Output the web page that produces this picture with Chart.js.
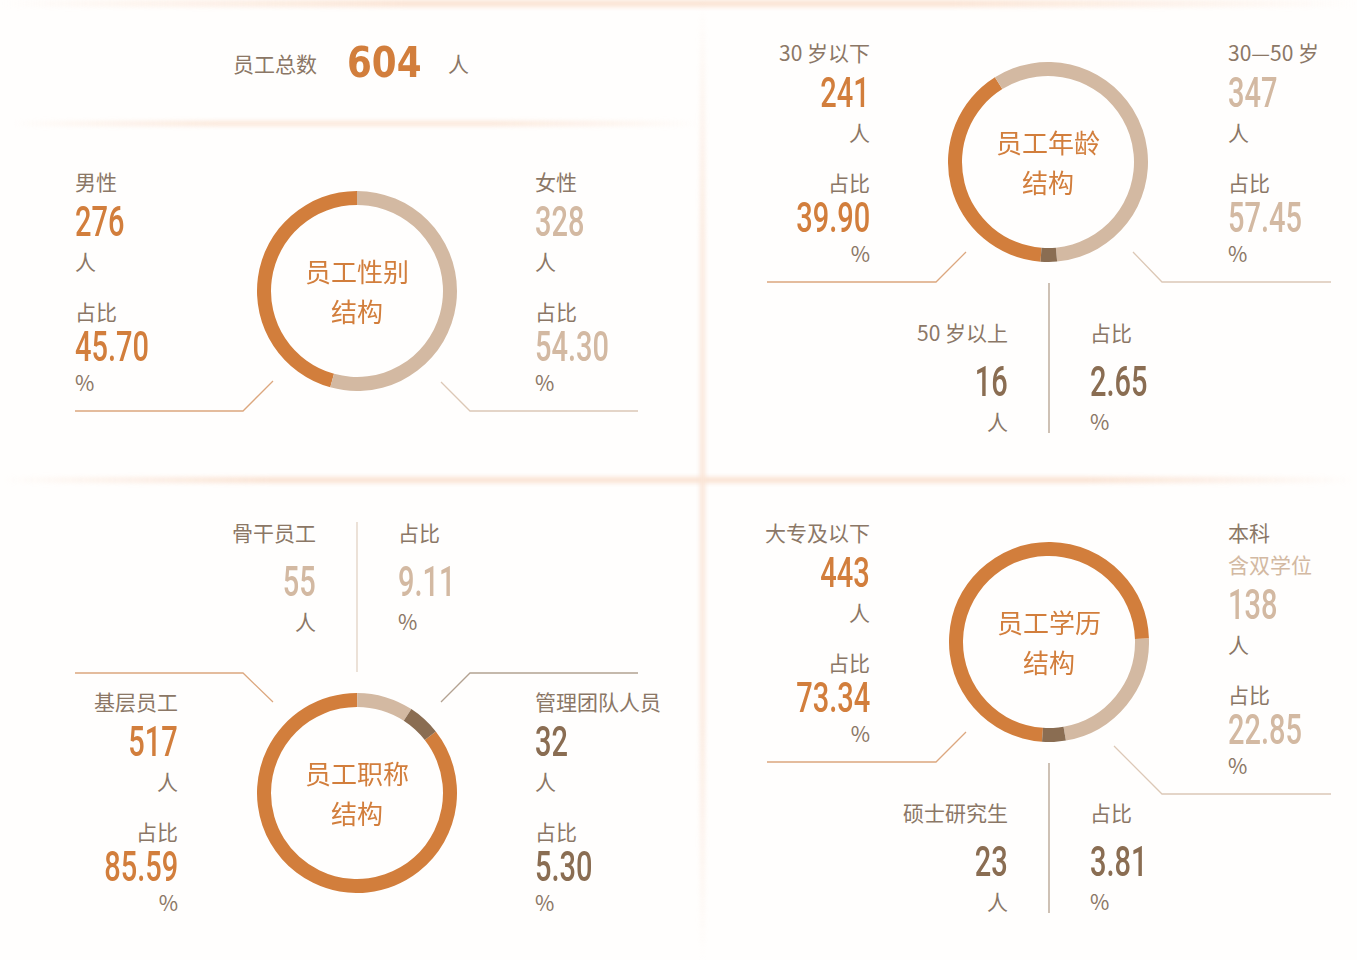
<!DOCTYPE html>
<html>
<head>
<meta charset="utf-8">
<script src="https://cdn.jsdelivr.net/npm/chart.js@4/dist/chart.umd.min.js"></script>
<style>
  html, body { margin: 0; padding: 0; background: #ffffff; }
  #stage { position: relative; width: 1357px; height: 960px; overflow: hidden; background: #fffefd; }
  .glow { position: absolute; filter: blur(2px); }
  .t { position: absolute; white-space: nowrap; line-height: 1; }
  .lab { font-family: "Noto Sans CJK SC", "Noto Sans", sans-serif; font-size: 21px; color: #8b7766; }
  .num { font-family: Roboto, "Liberation Sans", sans-serif; font-weight: 500; font-size: 42px; }
  .ring-title { font-family: "Noto Sans CJK SC", sans-serif; font-size: 26px; color: #d27e3c; }
  canvas.ring { position: absolute; }
  svg#lines { position: absolute; left: 0; top: 0; }
</style>
</head>
<body>
<div id="stage">
  <div class="glow" style="left:0;top:0;width:1357px;height:7px;background:linear-gradient(90deg,rgba(251,228,212,0),#fbe4d4 30%,#fbe4d4 70%,rgba(251,228,212,0));"></div>
  <div class="glow" style="left:10px;top:121px;width:690px;height:5px;background:linear-gradient(90deg,rgba(251,230,216,0),#fbe6d8 30%,#fbe6d8 70%,rgba(251,230,216,0));"></div>
  <div class="glow" style="left:0;top:477px;width:1357px;height:6px;background:linear-gradient(90deg,rgba(250,226,210,0),#fae2d2 20%,#fae2d2 80%,rgba(250,226,210,0));"></div>
  <div class="glow" style="left:700px;top:0;width:5px;height:960px;background:linear-gradient(180deg,rgba(251,232,220,0),#fbe9dd 25%,#fae4d6 50%,#fbe9dd 75%,rgba(251,232,220,0));"></div>
  <svg id="lines" width="1357" height="960"></svg>
</div>
<script>
// Headcount summary
const totalStaff = 604;

// Gender structure
const genderLabels = ['男性', '女性'];
const genderCounts = [276, 328];
const genderShares = ['45.70', '54.30'];

// Age structure
const ageLabels = ['30 岁以下', '30—50 岁', '50 岁以上'];
const ageCounts = [241, 347, 16];
const ageShares = ['39.90', '57.45', '2.65'];

// Job level structure
const levelLabels = ['基层员工', '骨干员工', '管理团队人员'];
const levelCounts = [517, 55, 32];
const levelShares = ['85.59', '9.11', '5.30'];

// Education structure
const eduLabels = ['大专及以下', '本科', '硕士研究生'];
const eduNote = '含双学位';
const eduCounts = [443, 138, 23];
const eduShares = ['73.34', '22.85', '3.81'];

const ORANGE = '#d27e3c';
const BEIGE = '#d3b9a2';
const BROWN = '#8a6d52';
const SLICE_COLORS = [ORANGE, BEIGE, BROWN];

const stage = document.getElementById('stage');
const svg = document.getElementById('lines');

// Place one text run; x is the left or right edge, y the vertical centre
function text(str, x, y, align, cls, color, scaleX) {
  const el = document.createElement('div');
  el.className = 't ' + cls;
  el.textContent = str;
  if (color) el.style.color = color;
  stage.appendChild(el);
  const fs = parseFloat(getComputedStyle(el).fontSize);
  el.style.top = (y - fs * 0.5) + 'px';
  if (align === 'right') {
    el.style.right = (1357 - x) + 'px';
  } else {
    el.style.left = x + 'px';
  }
  if (scaleX) {
    el.style.transform = 'scaleX(' + scaleX + ')';
    el.style.transformOrigin = align === 'right' ? 'right center' : 'left center';
  }
  return el;
}

// Labels sit a pixel above their nominal centre
function lab(str, x, y, align, color) {
  return text(str, x, y - 1, align, 'lab', color);
}

const NUM_SCALE = 0.69;
function num(str, x, y, align, color) {
  return text(str, x, y, align, 'num', color, NUM_SCALE);
}

// Six-row block: label, count, 人, 占比, share, %
function block(x, y0, align, label, count, share, color, note) {
  let y = y0;
  lab(label, x, y, align);
  if (note) { y += 32; lab(note, x, y, align, BEIGE); }
  num(String(count), x, y + 40, align, color);
  lab('人', x, y + 80, align);
  lab('占比', x, y + 130, align);
  num(share, x, y + 165, align, color);
  lab('%', x, y + 201, align);
}

// Split block around a vertical divider at xMid
function split(xMid, y0, label, count, share, color) {
  lab(label, xMid - 41, y0, 'right');
  num(String(count), xMid - 41, y0 + 49, 'right', color);
  lab('人', xMid - 41, y0 + 89, 'right');
  lab('占比', xMid + 41, y0, 'left');
  num(share, xMid + 41, y0 + 49, 'left', color);
  lab('%', xMid + 41, y0 + 89, 'left');
}

function line(points, color) {
  const p = document.createElementNS('http://www.w3.org/2000/svg', 'polyline');
  p.setAttribute('points', points.map(q => q.join(',')).join(' '));
  p.setAttribute('fill', 'none');
  p.setAttribute('stroke', color);
  p.setAttribute('stroke-width', '1.3');
  svg.appendChild(p);
}

// Ring chart with its two-line centre caption
function ring(cx, cy, counts, rotation, caption) {
  const c = document.createElement('canvas');
  c.className = 'ring';
  c.width = 200; c.height = 200;
  c.style.left = (cx - 100) + 'px';
  c.style.top = (cy - 100) + 'px';
  stage.appendChild(c);
  new Chart(c, {
    type: 'doughnut',
    data: {
      labels: counts.map((_, i) => i),
      datasets: [{
        data: counts,
        backgroundColor: SLICE_COLORS.slice(0, counts.length),
        borderWidth: 0
      }]
    },
    options: {
      responsive: false,
      animation: false,
      events: [],
      cutout: '86%',
      rotation: rotation,
      layout: { padding: 0 },
      plugins: { legend: { display: false }, tooltip: { enabled: false } }
    }
  });
  const w1 = text(caption[0], 0, cy - 20, 'left', 'ring-title');
  const w2 = text(caption[1], 0, cy + 20, 'left', 'ring-title');
  [w1, w2].forEach(w => { w.style.left = (cx - w.offsetWidth / 2) + 'px'; });
}

// Header
lab('员工总数', 233, 64, 'left');
const big = text(String(totalStaff), 347, 64, 'left', 'num', ORANGE, 0.85);
big.style.fontFamily = '"DejaVu Sans", sans-serif';
big.style.fontWeight = '700';
big.style.fontSize = '42px';
big.style.top = (64 - 42 * 0.52) + 'px';
lab('人', 448, 64, 'left');

// Gender panel
ring(357, 291, genderCounts, 195.5, ['员工性别', '结构']);
block(75, 182, 'left', genderLabels[0], genderCounts[0], genderShares[0], ORANGE);
block(535, 182, 'left', genderLabels[1], genderCounts[1], genderShares[1], BEIGE);
line([[75, 411], [243, 411], [273, 381]], '#dca77e');
line([[441, 382], [470, 411], [638, 411]], '#dcc8b6');

// Age panel
ring(1048, 162, ageCounts, 184.3, ['员工年龄', '结构']);
block(870, 53, 'right', ageLabels[0], ageCounts[0], ageShares[0], ORANGE);
block(1228, 53, 'left', ageLabels[1], ageCounts[1], ageShares[1], BEIGE);
split(1049, 333, ageLabels[2], ageCounts[2], ageShares[2], BROWN);
line([[767, 282], [936, 282], [966, 252]], '#dca77e');
line([[1133, 252], [1162, 282], [1331, 282]], '#dcc8b6');
line([[1049, 283], [1049, 433]], '#b4a08e');

// Job level panel
ring(357, 793, levelCounts, 52, ['员工职称', '结构']);
block(178, 702, 'right', levelLabels[0], levelCounts[0], levelShares[0], ORANGE);
split(357, 533, levelLabels[1], levelCounts[1], levelShares[1], BEIGE);
block(535, 702, 'left', levelLabels[2], levelCounts[2], levelShares[2], BROWN);
line([[75, 673], [243, 673], [273, 702]], '#dca77e');
line([[441, 702], [470, 673], [638, 673]], '#b3a291');
line([[357, 522], [357, 672]], '#e2d2c4');

// Education panel
ring(1049, 642, eduCounts, 184, ['员工学历', '结构']);
block(870, 533, 'right', eduLabels[0], eduCounts[0], eduShares[0], ORANGE);
block(1228, 533, 'left', eduLabels[1], eduCounts[1], eduShares[1], BEIGE, eduNote);
split(1049, 813, eduLabels[2], eduCounts[2], eduShares[2], BROWN);
line([[767, 762], [936, 762], [966, 732]], '#dca77e');
line([[1114, 746], [1162, 794], [1331, 794]], '#dcc8b6');
line([[1049, 763], [1049, 913]], '#b4a08e');
</script>
</body>
</html>
